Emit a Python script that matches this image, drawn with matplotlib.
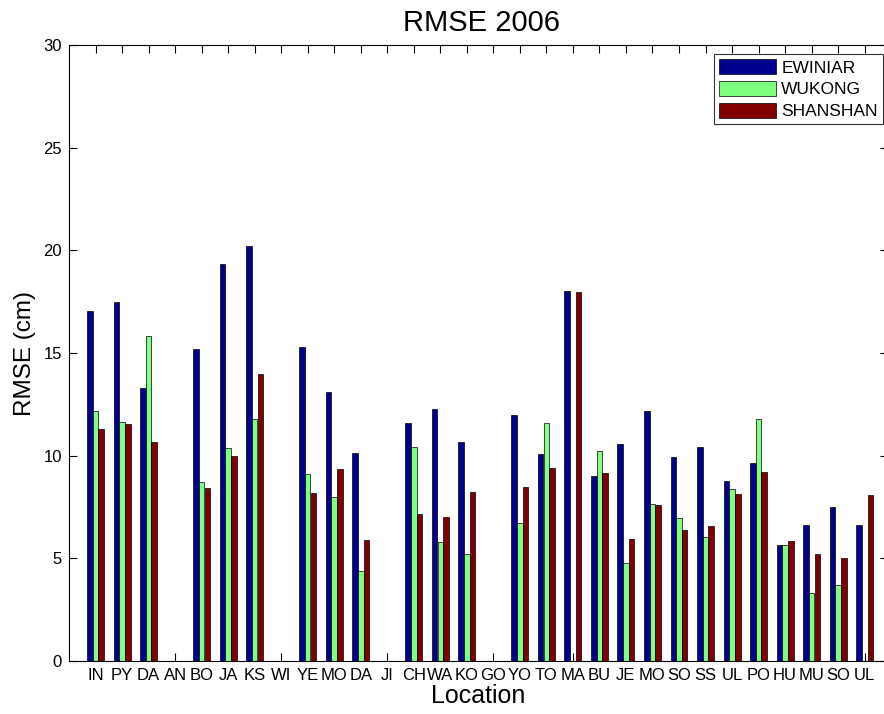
import numpy as np
import matplotlib
matplotlib.use('Agg')
import matplotlib.pyplot as plt

plt.rcParams['font.family'] = ['Liberation Sans', 'DejaVu Sans']

# Data
locations = ['IN', 'PY', 'DA', 'AN', 'BO', 'JA', 'KS', 'WI', 'YE', 'MO',
             'DA', 'JI', 'CH', 'WA', 'KO', 'GO', 'YO', 'TO', 'MA', 'BU',
             'JE', 'MO', 'SO', 'SS', 'UL', 'PO', 'HU', 'MU', 'SO', 'UL']
ewiniar = [17.05, 17.47, 13.28, 0, 15.19, 19.33, 20.19, 0, 15.28, 13.08,
           10.15, 0, 11.57, 12.26, 10.67, 0, 11.98, 10.10, 18.02, 8.99,
           10.55, 12.18, 9.94, 10.42, 8.75, 9.66, 5.65, 6.62, 7.48, 6.62]
wukong = [12.16, 11.64, 15.81, 0, 8.70, 10.36, 11.77, 0, 9.09, 7.97,
          4.37, 0, 10.41, 5.80, 5.19, 0, 6.70, 11.57, 0, 10.23,
          4.76, 7.63, 6.95, 6.04, 8.38, 11.77, 5.65, 3.31, 3.69, 0]
shanshan = [11.31, 11.54, 10.67, 0, 8.43, 10.0, 13.98, 0, 8.18, 9.35,
            5.89, 0, 7.16, 7.03, 8.25, 0, 8.49, 9.40, 17.99, 9.16,
            5.93, 7.60, 6.38, 6.59, 8.13, 9.20, 5.84, 5.21, 5.00, 8.10]

series = [('EWINIAR', ewiniar, '#00008F'),
          ('WUKONG', wukong, '#80FF80'),
          ('SHANSHAN', shanshan, '#800000')]

x = np.arange(1, len(locations) + 1)
w = 0.21
offsets = [-0.215, 0.0, 0.215]

fig = plt.figure(figsize=(8.84, 7.14), dpi=100)
ax = fig.add_axes([69/884, 53/714, (888-69)/884, (661-45)/714])

for (name, vals, col), off in zip(series, offsets):
    ax.bar(x + off, vals, width=w, color=col, edgecolor='black', linewidth=0.5, label=name)

ax.set_xlim(0, 30.88)
ax.set_ylim(0, 30)
ax.set_xticks(x)
ax.set_xticklabels(locations, fontsize=12)
ax.set_yticks(np.arange(0, 31, 5))
ax.tick_params(axis='y', labelsize=12)
ax.tick_params(direction='in', top=True, right=True, length=6, width=0.8, pad=5)
ax.set_axisbelow(True)
for s in ax.spines.values():
    s.set_linewidth(0.8)

ax.set_xlabel('Location', fontsize=18, labelpad=1)
ax.set_ylabel('RMSE (cm)', fontsize=17.5, labelpad=5)
ax.set_title('RMSE 2006', fontsize=21, pad=10, x=0.504)

leg = ax.legend(loc='upper right', bbox_to_anchor=(883/884, 1 - 54/714), bbox_transform=fig.transFigure,
                borderaxespad=0, fontsize=12.5, handlelength=3.3, handleheight=0.95,
                labelspacing=0.3, borderpad=0.3, handletextpad=0.3, fancybox=False)
leg.get_frame().set_edgecolor('black')
leg.get_frame().set_linewidth(0.8)

fig.savefig('out.png', dpi=100)
